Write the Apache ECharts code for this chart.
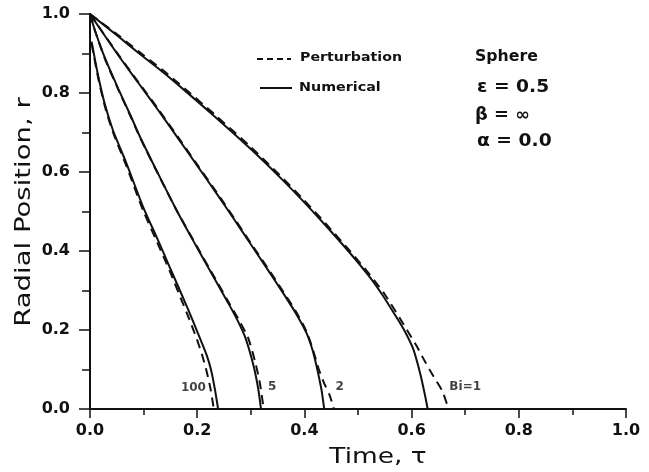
<!DOCTYPE html>
<html><head><meta charset="utf-8">
<script src="https://cdn.jsdelivr.net/npm/echarts@6/dist/echarts.min.js"></script>
<style>html,body{margin:0;padding:0;background:#fff}#c{width:649px;height:472px}</style>
</head><body><div id="c"></div>
<script>
// Axis tick labels
const xTickLabels = ['0.0','0.2','0.4','0.6','0.8','1.0'];
const yTickLabels = ['0.0','0.2','0.4','0.6','0.8','1.0'];

// Curve labels
const curveLabels = ['100','5','2','Bi=1'];

// Numerical (solid) curves: [time tau, radial position r]
const bi1Numerical = [[0,1],[0.053,0.943],[0.090,0.902],[0.134,0.855],[0.177,0.806],[0.233,0.740],[0.300,0.658],[0.354,0.587],[0.395,0.530],[0.440,0.464],[0.485,0.395],[0.522,0.334],[0.545,0.290],[0.566,0.245],[0.586,0.200],[0.603,0.152],[0.616,0.090],[0.625,0.035],[0.630,0]];
const bi2Numerical = [[0,1],[0.053,0.895],[0.090,0.826],[0.127,0.757],[0.165,0.684],[0.200,0.616],[0.236,0.546],[0.270,0.478],[0.299,0.419],[0.330,0.356],[0.361,0.292],[0.385,0.240],[0.404,0.192],[0.415,0.150],[0.423,0.107],[0.428,0.075],[0.432,0.048],[0.437,0]];
const bi5Numerical = [[0,1],[0.010,0.955],[0.028,0.888],[0.053,0.810],[0.075,0.745],[0.093,0.690],[0.131,0.585],[0.162,0.502],[0.193,0.425],[0.224,0.350],[0.258,0.268],[0.275,0.225],[0.290,0.180],[0.305,0.110],[0.314,0.050],[0.319,0]];
const bi100Numerical = [[0.003,0.930],[0.015,0.845],[0.028,0.770],[0.043,0.705],[0.068,0.622],[0.099,0.512],[0.126,0.430],[0.150,0.355],[0.170,0.293],[0.183,0.252],[0.195,0.213],[0.207,0.173],[0.218,0.135],[0.226,0.098],[0.233,0.050],[0.239,0]];

// Perturbation (dashed) curves
const bi1Perturbation = [[0,1],[0.053,0.946],[0.090,0.906],[0.134,0.860],[0.177,0.811],[0.233,0.745],[0.300,0.663],[0.354,0.592],[0.395,0.535],[0.440,0.469],[0.485,0.400],[0.522,0.340],[0.550,0.290],[0.578,0.230],[0.595,0.192],[0.610,0.158],[0.625,0.120],[0.641,0.082],[0.657,0.046],[0.669,0]];
const bi2Perturbation = [[0,1],[0.053,0.897],[0.090,0.828],[0.127,0.760],[0.165,0.687],[0.200,0.619],[0.236,0.549],[0.270,0.481],[0.299,0.422],[0.330,0.360],[0.361,0.296],[0.385,0.245],[0.404,0.196],[0.416,0.150],[0.427,0.100],[0.437,0.065],[0.447,0.035],[0.455,0]];
const bi5Perturbation = [[0,1],[0.010,0.955],[0.028,0.886],[0.053,0.808],[0.075,0.743],[0.093,0.688],[0.131,0.584],[0.162,0.502],[0.193,0.427],[0.224,0.353],[0.258,0.272],[0.278,0.225],[0.295,0.180],[0.308,0.120],[0.317,0.065],[0.324,0]];
const bi100Perturbation = [[0.003,0.925],[0.015,0.840],[0.028,0.765],[0.043,0.700],[0.068,0.615],[0.099,0.503],[0.126,0.420],[0.150,0.345],[0.168,0.285],[0.185,0.228],[0.199,0.178],[0.210,0.133],[0.218,0.093],[0.225,0.050],[0.231,0]];

const chart = echarts.init(document.getElementById('c'), null, {renderer:'canvas'});
const FONT = 'DejaVu Sans';
const INK = '#111';

function solid(data){
  return {type:'line', data, showSymbol:false, smooth:0.25, silent:true,
    lineStyle:{color:INK, width:2, type:'solid'}, z:3};
}
function dashed(data){
  return {type:'line', data, showSymbol:false, smooth:0.25, silent:true,
    lineStyle:{color:INK, width:2, type:[9,6]}, z:3};
}
const labelAnchors = [[0.193,0.054],[0.340,0.056],[0.466,0.056],[0.700,0.056]];

const axisCommon = {
  type:'value', min:0, max:1, interval:0.2,
  axisLine:{show:true, onZero:false, lineStyle:{color:INK, width:2}},
  splitLine:{show:false}, minorSplitLine:{show:false},
};
function txt(x, y, text, font, extra){
  return Object.assign({type:'text', x, y, style:{text, fill:INK, font,
    align:'left', verticalAlign:'middle', textAlign:'left', textVerticalAlign:'middle'}}, extra||{});
}

chart.setOption({
  animation:false,
  backgroundColor:'#fff',
  grid:{left:90, right:23, top:14, bottom:63, containLabel:false},
  xAxis:Object.assign({}, axisCommon, {
    axisTick:{show:true, inside:false, length:9, lineStyle:{color:INK, width:1.5}},
    minorTick:{show:true, splitNumber:2, length:6, lineStyle:{color:INK, width:1.5}},
    axisLabel:{margin:14, fontSize:16, fontWeight:'bold', fontFamily:FONT, color:INK,
      formatter:(v)=>xTickLabels[Math.round(v/0.2)]}
  }),
  yAxis:Object.assign({}, axisCommon, {
    axisTick:{show:true, inside:false, length:11, lineStyle:{color:INK, width:1.5}},
    minorTick:{show:true, splitNumber:2, length:8, lineStyle:{color:INK, width:1.5}},
    axisLabel:{margin:20, fontSize:16, fontWeight:'bold', fontFamily:FONT, color:INK,
      formatter:(v)=>yTickLabels[Math.round(v/0.2)]}
  }),
  series:[
    solid(bi1Numerical), solid(bi2Numerical), solid(bi5Numerical), solid(bi100Numerical),
    dashed(bi1Perturbation), dashed(bi2Perturbation), dashed(bi5Perturbation), dashed(bi100Perturbation),
    {type:'scatter', symbolSize:0, silent:true, z:5,
      data:labelAnchors.map((p,i)=>({value:p, name:curveLabels[i]})),
      label:{show:true, position:'inside', formatter:(p)=>p.name,
        fontSize:12, fontWeight:'bold', fontFamily:FONT, color:INK}}
  ],
  graphic:[
    {type:'line', shape:{x1:257,y1:59,x2:291,y2:59}, style:{stroke:INK, lineWidth:2, lineDash:[6,4]}},
    txt(300, 58, 'Perturbation', 'bold 13px "DejaVu Sans"', {scaleX:1.09}),
    {type:'line', shape:{x1:260,y1:88,x2:292,y2:88}, style:{stroke:INK, lineWidth:2}},
    txt(299, 88, 'Numerical', 'bold 13px "DejaVu Sans"', {scaleX:1.1}),
    txt(475, 57, 'Sphere', 'bold 15px "DejaVu Sans"', {scaleX:1.05}),
    txt(477, 88, 'ε = 0.5', 'bold 17px "DejaVu Sans"', {scaleX:1.1}),
    txt(475, 116, 'β = ∞', 'bold 17px "DejaVu Sans"', {scaleX:1.05}),
    txt(477, 142, 'α = 0.0', 'bold 17px "DejaVu Sans"', {scaleX:1.1}),
    {type:'text', x:378, y:457, scaleX:1.2, style:{text:'Time, τ', fill:INK, font:'22px "DejaVu Sans"', align:'center', verticalAlign:'middle', textAlign:'center', textVerticalAlign:'middle'}},
    {type:'text', x:24, y:212, rotation:Math.PI/2, scaleX:1.25, style:{text:'Radial Position, r', fill:INK, font:'22px "DejaVu Sans"', align:'center', verticalAlign:'middle', textAlign:'center', textVerticalAlign:'middle'}}
  ]
});
</script>
</body></html>
